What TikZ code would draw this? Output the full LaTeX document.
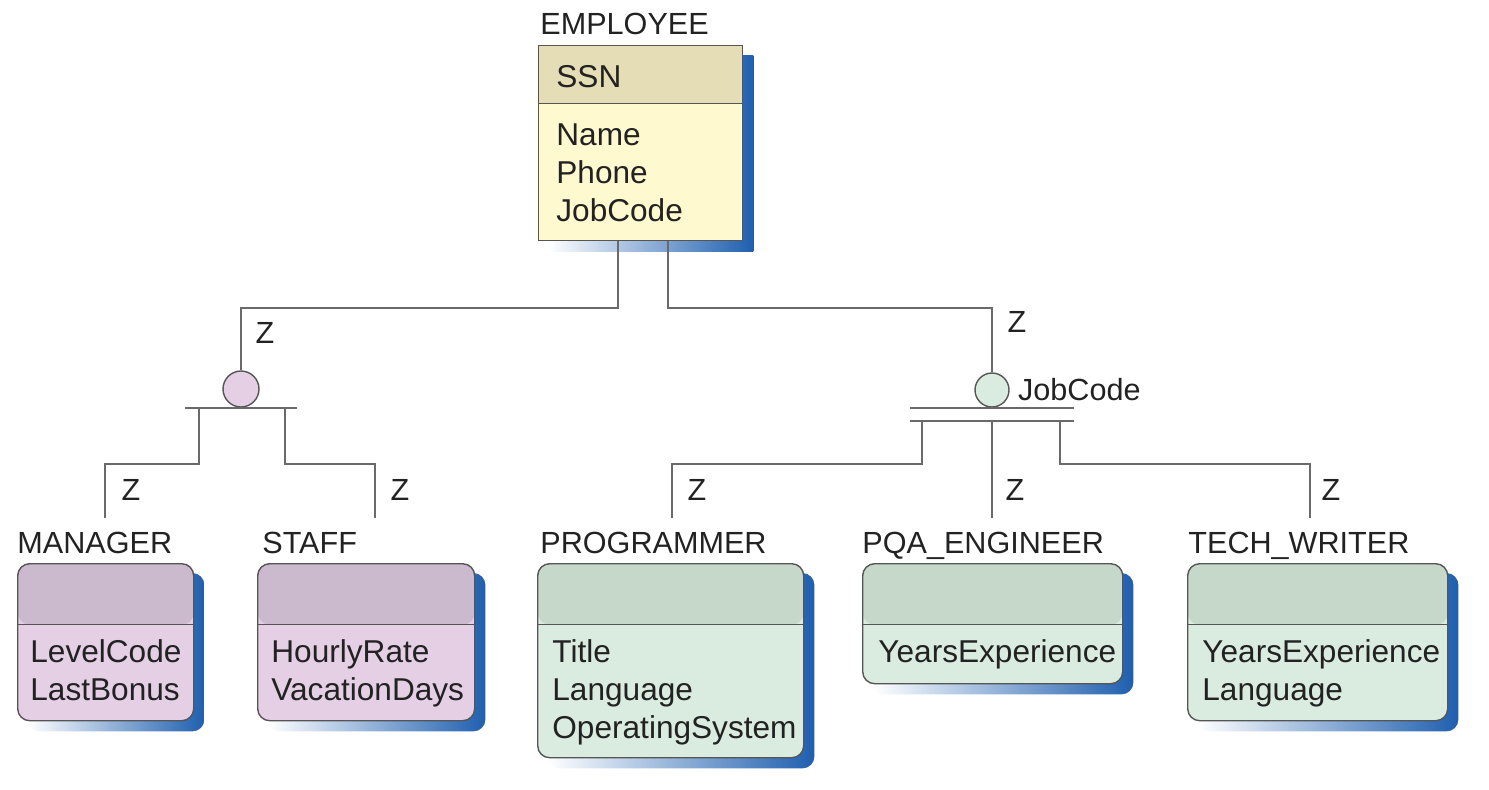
\documentclass[tikz,border=0pt]{standalone}
\usepackage{fontspec}
\setmainfont{Liberation Sans}
\usetikzlibrary{calc,positioning,backgrounds}
\definecolor{EmpHead}{HTML}{E5DDB5}
\definecolor{EmpBody}{HTML}{FFF9CF}
\definecolor{MgrHead}{HTML}{CBB9CE}
\definecolor{MgrBody}{HTML}{E4CFE5}
\definecolor{PrgHead}{HTML}{C6D8CA}
\definecolor{PrgBody}{HTML}{DAECDF}
\definecolor{ShadowClr}{HTML}{1F5FAF}
\definecolor{BoxClr}{HTML}{555555}
\definecolor{LineClr}{HTML}{6A6A6A}
\definecolor{TxtClr}{HTML}{222222}

\tikzset{
  ent/.style n args={3}{draw=BoxClr, line width=.7pt, anchor=north west,
    inner sep=0pt, fill=#3,
    path picture={
      \fill[#2] (path picture bounding box.north west)
        rectangle ([yshift=-#1]path picture bounding box.north east);
      \draw[BoxClr, line width=.7pt] ([yshift=-#1]path picture bounding box.north west)
        -- ([yshift=-#1]path picture bounding box.north east);}},
  rows/.style={anchor=base west, align=left, inner sep=0pt, text=TxtClr,
    font=\fontsize{15.8}{19}\selectfont},
  lbl/.style={anchor=base west, inner sep=0pt, text=TxtClr,
    font=\fontsize{15.3}{19}\selectfont},
  zlbl/.style={inner sep=0pt, text=TxtClr, font=\fontsize{15.3}{19}\selectfont},
  subcirc/.style={circle, draw=BoxClr, line width=.7pt, minimum size=18pt,
    inner sep=0pt, fill=#1},
  conn/.style={draw=LineClr, line width=1pt},
}

\begin{document}
\begin{tikzpicture}[x=0.5pt,y=-0.5pt]
\useasboundingbox (0,0) rectangle (1489,789);

% supertype (row nodes sit on the baseline of their last line)
\node[lbl] (empL) at (540,34) {EMPLOYEE};
\node[ent={29pt}{EmpHead}{EmpBody}, minimum width=102pt, minimum height=97.5pt] (emp) at (538,45) {};
\node[rows] (empK) at (556,87) {SSN};
\node[rows] (empA) at (556,221) {Name\\Phone\\JobCode};

% subtypes
\node[lbl] (manL) at (17,553) {MANAGER};
\node[ent={30.5pt}{MgrHead}{MgrBody}, rounded corners=6pt, minimum width=88pt, minimum height=78.5pt] (man) at (17,563) {};
\node[rows] (manA) at (30,700) {LevelCode\\LastBonus};

\node[lbl] (stfL) at (262,553) {STAFF};
\node[ent={30.5pt}{MgrHead}{MgrBody}, rounded corners=6pt, minimum width=108.5pt, minimum height=78.5pt] (stf) at (257,563) {};
\node[rows] (stfA) at (271,700) {HourlyRate\\VacationDays};

\node[lbl] (prgL) at (540,553) {PROGRAMMER};
\node[ent={30.5pt}{PrgHead}{PrgBody}, rounded corners=6pt, minimum width=133pt, minimum height=97pt] (prg) at (537,563) {};
\node[rows] (prgA) at (552,738) {Title\\Language\\OperatingSystem};

\node[lbl] (pqaL) at (862,553) {PQA\_ENGINEER};
\node[ent={30.5pt}{PrgHead}{PrgBody}, rounded corners=6pt, minimum width=130pt, minimum height=60pt] (pqa) at (862,563) {};
\node[rows] (pqaA) at (878,662) {YearsExperience};

\node[lbl] (twL) at (1188,553) {TECH\_WRITER};
\node[ent={30.5pt}{PrgHead}{PrgBody}, rounded corners=6pt, minimum width=130pt, minimum height=78.5pt] (tw) at (1187,563) {};
\node[rows] (twA) at (1202,700) {YearsExperience\\Language};

% shadows behind the boxes
\begin{scope}[on background layer]
\shade[left color=white, right color=ShadowClr]
  ([shift={(5pt,-5pt)}]emp.north west) rectangle ([shift={(5pt,-5pt)}]emp.south east);
\foreach \n in {man,stf,prg,pqa,tw}
  \shade[left color=white, right color=ShadowClr, rounded corners=6pt]
    ([shift={(5pt,-5pt)}]\n.north west) rectangle ([shift={(5pt,-5pt)}]\n.south east);
\end{scope}

% subtype circles
\node[subcirc=MgrBody] (c1) at (241,389) {};
\node[subcirc=PrgBody, minimum size=17pt] (c2) at (992,390) {};
\node[zlbl, right=4pt of c2] (disc) {JobCode};

% tops of the subtype lines
\coordinate (manT) at (105,518);
\coordinate (stfT) at (375,518);
\coordinate (prgT) at (672,518);
\coordinate (pqaT) at (992,518);
\coordinate (twT) at (1310,518);

% supertype to circles
\draw[conn] ([xshift=40pt]emp.south west) -- ++(0,67) -| (c1.north);
\draw[conn] ([xshift=65pt]emp.south west) -- ++(0,67) -| (c2.north);

% bars
\coordinate (b1) at (c1.south);
\draw[conn] ($(b1)+(-56,0)$) -- ($(b1)+(56,0)$);
\coordinate (b2) at (c2.south);
\coordinate (b3) at ($(b2)+(0,13)$);
\draw[conn] ($(b2)+(-82,0)$) -- ($(b2)+(82,0)$);
\draw[conn] ($(b3)+(-82,0)$) -- ($(b3)+(82,0)$);

% bars to subtypes
\draw[conn] ($(b1)+(-42,0)$) -- ++(0,56) -| (manT);
\draw[conn] ($(b1)+(44,0)$) -- ++(0,56) -| (stfT);
\draw[conn] ($(b3)+(-70,0)$) -- ++(0,43) -| (prgT);
\draw[conn] (b3) -- (pqaT);
\draw[conn] ($(b3)+(68,0)$) -- ++(0,43) -| (twT);

% Z marks
\node[zlbl] (z1) at (265,333) {Z};
\node[zlbl] (z2) at (1017,322) {Z};
\node[zlbl] (z3) at (131,490) {Z};
\node[zlbl] (z4) at (400,490) {Z};
\node[zlbl] (z5) at (697,490) {Z};
\node[zlbl] (z6) at (1015,490) {Z};
\node[zlbl] (z7) at (1331,490) {Z};

\end{tikzpicture}
\end{document}
